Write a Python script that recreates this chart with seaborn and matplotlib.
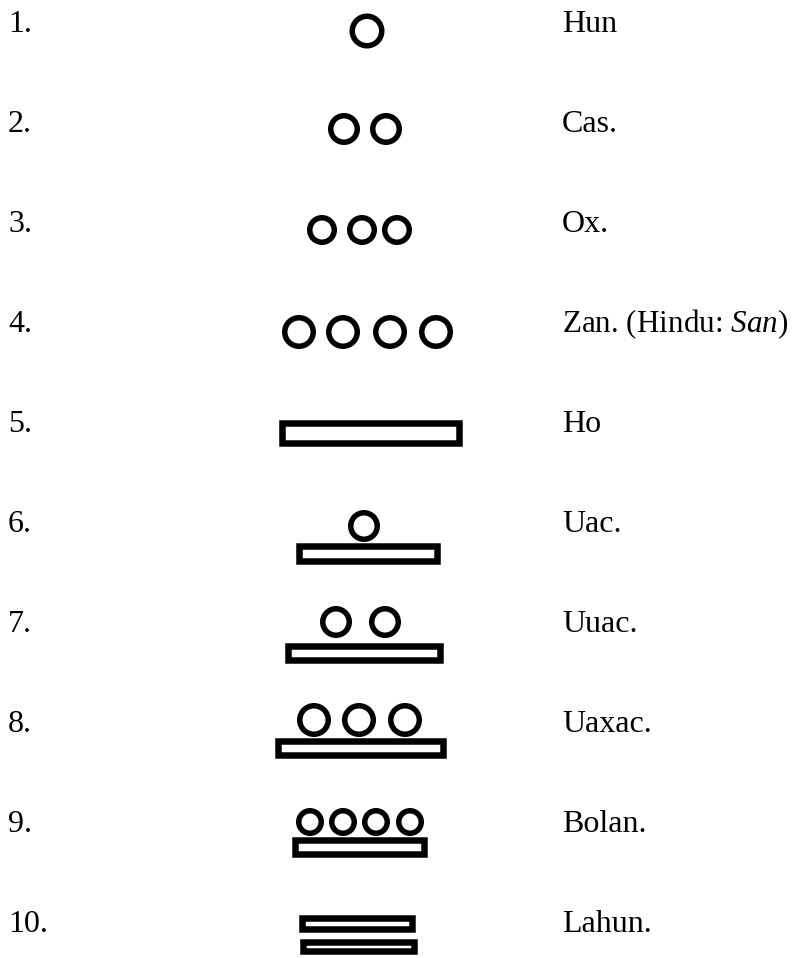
import matplotlib
matplotlib.use("Agg")
import matplotlib.pyplot as plt
import pandas as pd
import seaborn as sns

# Row labels and Maya names
numbers = ["1.", "2.", "3.", "4.", "5.", "6.", "7.", "8.", "9.", "10."]
names = ["Hun", "Cas.", "Ox.", r"Zan. (Hindu: $\mathit{San}$)", "Ho",
         "Uac.", "Uuac.", "Uaxac.", "Bolan.", "Lahun."]
baselines = [32, 132, 232, 332, 432, 532, 632, 732, 832, 932]

# Dots: row, x centre, y centre, outer diameter (pixels)
dot_row = [1, 2, 2, 3, 3, 3, 4, 4, 4, 4, 6, 7, 7, 8, 8, 8, 9, 9, 9, 9]
dot_x = [367, 344, 386, 322, 362, 397, 299, 343, 390, 436,
         364, 336, 385, 314, 359, 405, 310, 343, 376, 410]
dot_y = [31, 129, 129, 230, 230, 230, 332, 332, 332, 332,
         526, 622, 622, 720, 720, 720, 822, 822, 822, 822]
dot_d = [35, 32, 32, 30, 30, 30, 34, 34, 34, 34,
         32, 32, 32, 34, 34, 34, 28, 28, 28, 28]

# Bars: row, left, right, top, bottom (pixels)
bar_row = [5, 6, 7, 8, 9, 10, 10]
bar_x0 = [279, 296, 285, 275, 292, 299, 300]
bar_x1 = [462, 440, 443, 446, 427, 415, 417]
bar_y0 = [420, 543, 643, 738, 837, 915, 939]
bar_y1 = [446, 564, 663, 758, 857, 932, 954]

sns.set_theme(style="white")
plt.rcParams["font.family"] = ["Liberation Serif", "DejaVu Serif"]
plt.rcParams["mathtext.fontset"] = "custom"
plt.rcParams["mathtext.rm"] = "Liberation Serif"
plt.rcParams["mathtext.it"] = "Liberation Serif:italic"

W, H, DPI = 792, 958, 100
PX = 72 / DPI  # points per pixel

fig = plt.figure(figsize=(W / DPI, H / DPI), dpi=DPI)
fig.patch.set_facecolor("white")
ax = fig.add_axes([0, 0, 1, 1])

# Bars with thick outline
bar_lw = 6.5
bars = pd.DataFrame({"row": bar_row, "x0": bar_x0, "x1": bar_x1,
                     "y0": bar_y0, "y1": bar_y1})
ax.barh(y=(bars["y0"] + bars["y1"]) / 2,
        width=bars["x1"] - bars["x0"] - bar_lw,
        left=bars["x0"] + bar_lw / 2,
        height=bars["y1"] - bars["y0"] - bar_lw,
        color="white", edgecolor="black", linewidth=bar_lw * PX, zorder=2)

# Dots as open circles
dot_lw = 5.5
dots = pd.DataFrame({"row": dot_row, "x": dot_x, "y": dot_y, "d": dot_d})
size_map = {d: ((d - dot_lw) * PX) ** 2 for d in sorted(set(dot_d))}
sns.scatterplot(data=dots, x="x", y="y", size="d", sizes=size_map,
                marker="o", facecolor="white", edgecolor="black",
                linewidth=dot_lw * PX, legend=False, ax=ax, zorder=3)
ax.set_xlim(0, W)
ax.set_ylim(H, 0)
ax.axis("off")

for num, name, yb in zip(numbers, names, baselines):
    ax.text(8, yb, num, fontsize=23, va="baseline", ha="left", color="black")
    fs = 22.4 if "Hindu" in name else 23
    ax.text(562, yb, name, fontsize=fs, va="baseline", ha="left", color="black")

fig.savefig("out.png", dpi=DPI, facecolor="white")
